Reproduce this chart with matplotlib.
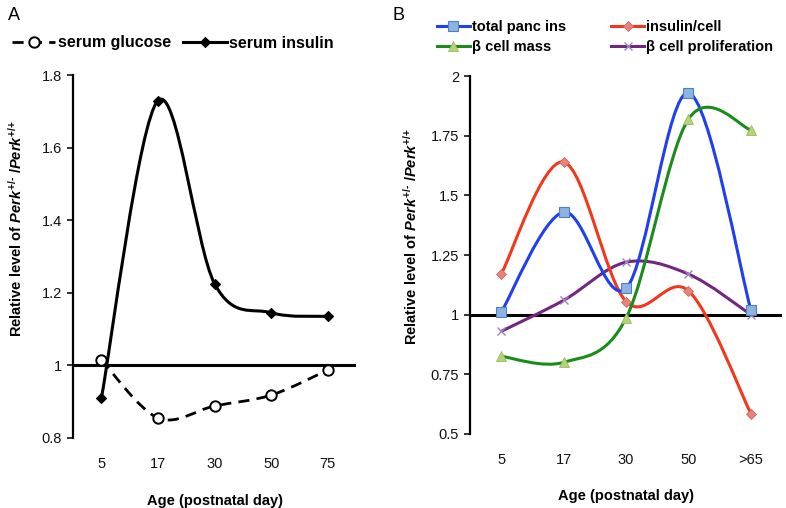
import matplotlib
matplotlib.use("Agg")
import matplotlib.pyplot as plt
from matplotlib.path import Path
from matplotlib.patches import PathPatch
from matplotlib.lines import Line2D

plt.rcParams['font.family'] = ['Liberation Sans', 'DejaVu Sans']
plt.rcParams['mathtext.fontset'] = 'custom'
plt.rcParams['mathtext.rm'] = 'Liberation Sans:bold'
plt.rcParams['mathtext.it'] = 'Liberation Sans:bold:italic'
plt.rcParams['mathtext.bf'] = 'Liberation Sans:bold'

# Panel A data
ages_a = ['5', '17', '30', '50', '75']
serum_glucose = [1.015, 0.855, 0.888, 0.918, 0.987]
serum_insulin = [0.91, 1.73, 1.225, 1.145, 1.135]

# Panel B data
ages_b = ['5', '17', '30', '50', '>65']
total_panc_ins = [1.01, 1.43, 1.11, 1.93, 1.02]
insulin_per_cell = [1.17, 1.64, 1.055, 1.10, 0.585]
beta_cell_mass = [0.825, 0.80, 0.985, 1.82, 1.775]
beta_cell_prolif = [0.93, 1.06, 1.22, 1.17, 1.0]

YLABEL = r'Relative level of $\mathit{Perk}^{\text{+/-}}$ /$\mathit{Perk}^{\text{+/+}}$'


def smooth_path(xs, ys):
    # Excel-style smoothed line: cubic Bezier through every point
    pts = list(zip(xs, ys))
    n = len(pts)
    verts = [pts[0]]
    codes = [Path.MOVETO]
    for i in range(n - 1):
        p0 = pts[i - 1] if i > 0 else pts[i]
        p1 = pts[i]
        p2 = pts[i + 1]
        p3 = pts[i + 2] if i + 2 < n else pts[i + 1]
        c1 = (p1[0] + (p2[0] - p0[0]) / 6, p1[1] + (p2[1] - p0[1]) / 6)
        c2 = (p2[0] - (p3[0] - p1[0]) / 6, p2[1] - (p3[1] - p1[1]) / 6)
        verts += [c1, c2, p2]
        codes += [Path.CURVE4] * 3
    return Path(verts, codes)


def draw_series(ax, values, color, lw, ls, marker, ms, mfc, mec, mew, z):
    xs = list(range(len(values)))
    ax.add_patch(PathPatch(smooth_path(xs, values), fill=False, edgecolor=color,
                           lw=lw, linestyle=ls, zorder=z, capstyle='butt'))
    ax.plot(xs, values, linestyle='none', marker=marker, markersize=ms,
            markerfacecolor=mfc, markeredgecolor=mec, markeredgewidth=mew, zorder=z + 1)
    return Line2D([], [], color=color, lw=lw, linestyle=ls, marker=marker, markersize=ms,
                  markerfacecolor=mfc, markeredgecolor=mec, markeredgewidth=mew)


def style_axes(ax, labels, ylim, yticks, yticklabels):
    ax.set_xlim(-0.5, 4.5)
    ax.set_ylim(*ylim)
    ax.set_xticks(range(len(labels)))
    ax.set_xticklabels(labels)
    ax.set_yticks(yticks)
    ax.set_yticklabels(yticklabels)
    for s in ['top', 'right', 'bottom']:
        ax.spines[s].set_visible(False)
    ax.spines['left'].set_linewidth(1.6)
    ax.tick_params(axis='x', length=0, pad=14, labelsize=10.5, colors='#111111')
    ax.tick_params(axis='y', length=4, width=1.2, direction='out', pad=4,
                   labelsize=10.5, colors='#111111')
    ax.axhline(1, color='black', lw=2.2, zorder=1)
    ax.set_xlabel('Age (postnatal day)', fontsize=10.5, fontweight='bold', labelpad=16)
    ax.set_ylabel(YLABEL, fontsize=10.5, fontweight='bold')


fig = plt.figure(figsize=(7.86, 5.08), dpi=100)
ax_a = fig.add_axes([0.093, 0.138, 0.36, 0.714])
ax_b = fig.add_axes([0.598, 0.146, 0.397, 0.704])

# Panel A
style_axes(ax_a, ages_a, (0.8, 1.8), [0.8, 1.0, 1.2, 1.4, 1.6, 1.8],
           ['0.8', '1', '1.2', '1.4', '1.6', '1.8'])
h_glu = draw_series(ax_a, serum_glucose, 'black', 2.0, (0, (4, 2.6)), 'o', 7.5,
                    'white', 'black', 1.4, 3)
h_ins = draw_series(ax_a, serum_insulin, 'black', 2.2, '-', 'D', 5,
                    'black', 'black', 0.8, 5)
ax_a.yaxis.set_label_coords(-0.17, 0.578)
ax_a.legend([h_glu, h_ins], ['serum glucose', 'serum insulin'], loc='center left',
            bbox_to_anchor=(12 / 786, 1 - 43 / 508), bbox_transform=fig.transFigure,
            ncol=2, frameon=False, handlelength=2.7, handletextpad=0.15,
            columnspacing=0.8, borderpad=0, borderaxespad=0,
            prop={'weight': 'bold', 'size': 11.5})

# Panel B
style_axes(ax_b, ages_b, (0.5, 2.0), [0.5, 0.75, 1.0, 1.25, 1.5, 1.75, 2.0],
           ['0.5', '0.75', '1', '1.25', '1.5', '1.75', '2'])
h_tot = draw_series(ax_b, total_panc_ins, '#1f3ff0', 2.2, '-', 's', 6.5,
                    '#8db3e2', '#4f81bd', 0.8, 6)
h_ipc = draw_series(ax_b, insulin_per_cell, '#f2381c', 2.2, '-', 'D', 4.8,
                    '#e8837c', '#d06a64', 0.6, 4)
h_mass = draw_series(ax_b, beta_cell_mass, '#1a8c1a', 2.2, '-', '^', 6.5,
                     '#b3d47a', '#9bbb59', 0.6, 8)
h_pro = draw_series(ax_b, beta_cell_prolif, '#732582', 2.2, '-', 'x', 6,
                    '#9b87c0', '#9b87c0', 1.0, 2)
ax_b.yaxis.set_label_coords(-0.16, 0.553)
ax_b.legend([h_tot, h_mass, h_ipc, h_pro],
            ['total panc ins', 'β cell mass', 'insulin/cell', 'β cell proliferation'],
            loc='center left', bbox_to_anchor=(437 / 786, 1 - 37 / 508),
            bbox_transform=fig.transFigure, ncol=2, frameon=False,
            handlelength=2.25, handletextpad=0.15, columnspacing=3.1,
            labelspacing=0.45, borderpad=0, borderaxespad=0,
            prop={'weight': 'bold', 'size': 10.5})

fig.text(8 / 786, 1 - 16 / 508, 'A', fontsize=13, va='center', ha='left')
fig.text(392 / 786, 1 - 16 / 508, 'B', fontsize=13, va='center', ha='left')

fig.savefig('out.png', dpi=100)
